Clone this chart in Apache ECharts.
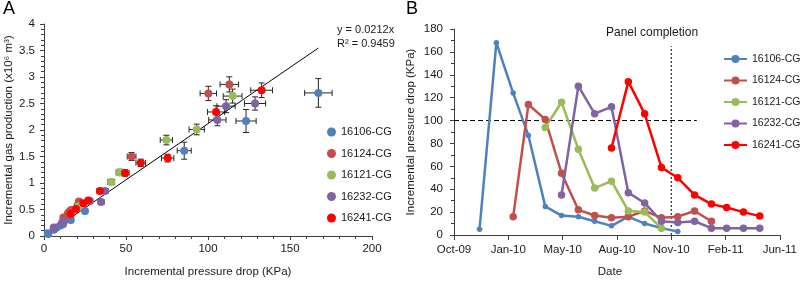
<!DOCTYPE html>
<html>
<head>
<meta charset="utf-8">
<script src="https://cdn.jsdelivr.net/npm/echarts@6/dist/echarts.min.js"></script>
<style>html,body{margin:0;padding:0;background:#fff}#c{width:800px;height:283px}</style>
</head>
<body>
<div id="c"></div>
<script>
// ---------- DATA ----------
const wells = ['16106-CG', '16124-CG', '16121-CG', '16232-CG', '16241-CG'];
const colors = ['#4F81BD', '#C0504D', '#9BBB59', '#8064A2', '#FF0000'];

// Panel A: [incremental pressure drop (KPa), incremental gas production (x10^6 m3)]
const a16106 = [[2.6,0.04],[167.3,2.70],[123.2,2.17],[85.5,1.61],[25,0.47],[16.3,0.30],[16,0.34],[11.6,0.22],[7.7,0.16],[15.5,0.32],[10,0.20],[6,0.12],[2.3,0.05]];
const a16124 = [[15.5,0.40],[113,2.86],[100.2,2.69],[53.4,1.50],[21.3,0.65],[16.5,0.49],[14.8,0.44],[15.9,0.47],[20.5,0.58],[14.5,0.41],[15.5,0.45],[20.8,0.55],[11.8,0.35]];
const a16121 = [[93.1,2.01],[115,2.64],[74.6,1.81],[41,1.02],[46.3,1.20],[21,0.56],[20,0.52],[6,0.15]];
const a16232 = [[34.8,0.64],[128.7,2.50],[105.7,2.19],[111,2.45],[37.2,0.85],[28,0.66],[12,0.28],[11,0.25],[12,0.27],[6,0.15],[6,0.14],[6,0.16],[6,0.13]];
const a16241 = [[75.4,1.47],[132.7,2.75],[104.9,2.34],[59,1.38],[49.4,1.19],[34.1,0.85],[27,0.67],[24,0.62],[19.5,0.51],[16.3,0.42]];
const xErrFrac = 0.05;
const yErrFrac = [0.10, 0.05, 0.05, 0.05, 0.05];
const trendSlope = 0.0212;
const trendText = 'y = 0.0212x\nR² = 0.9459';

// Panel B: dates and incremental pressure drop (KPa)
const b16106Dates = ['2009-11-30','2009-12-31','2010-01-31','2010-02-28','2010-03-31','2010-04-30','2010-05-31','2010-06-30','2010-07-31','2010-08-31','2010-09-30','2010-10-31','2010-11-30'];
const b16106Vals  = [5,168,124,87,25,17,16,12,8,16,10,6,3];
const b16124Dates = ['2010-01-31','2010-02-28','2010-03-31','2010-04-30','2010-05-31','2010-06-30','2010-07-31','2010-08-31','2010-09-30','2010-10-31','2010-11-30','2010-12-31','2011-01-31'];
const b16124Vals  = [16,114,101,54,22,17,15,16,21,15,16,21,12];
const b16121Dates = ['2010-03-31','2010-04-30','2010-05-31','2010-06-30','2010-07-31','2010-08-31','2010-09-30','2010-10-31'];
const b16121Vals  = [94,116,75,41,47,21,20,6];
const b16232Dates = ['2010-04-30','2010-05-31','2010-06-30','2010-07-31','2010-08-31','2010-09-30','2010-10-31','2010-11-30','2010-12-31','2011-01-31','2011-02-28','2011-03-31','2011-04-30'];
const b16232Vals  = [35,130,106,112,37,28,12,11,12,6,6,6,6];
const b16241Dates = ['2010-07-31','2010-08-31','2010-09-30','2010-10-31','2010-11-30','2010-12-31','2011-01-31','2011-02-28','2011-03-31','2011-04-30'];
const b16241Vals  = [76,134,106,59,50,35,27,24,20,16.5];
const refLevel = 100;
const refLineEnd = '2011-01-04';
const completionDate = '2010-11-18';
const completionTop = 165;
const dateAxisMin = 40100, dateAxisMax = 40700, dateAxisStep = 100; // Excel serial days

// ---------- HELPERS ----------
const FONT = '"Liberation Sans", Arial, sans-serif';
const MONTHS = ['Jan','Feb','Mar','Apr','May','Jun','Jul','Aug','Sep','Oct','Nov','Dec'];
const EPOCH = Date.UTC(1899, 11, 30);
function serial(s){ const p = s.split('-').map(Number); return (Date.UTC(p[0], p[1]-1, p[2]) - EPOCH) / 86400000; }
function fmtSerial(v){ const d = new Date(EPOCH + v*86400000); return MONTHS[d.getUTCMonth()] + '-' + String(d.getUTCFullYear()).slice(2); }

const aData = [a16106, a16124, a16121, a16232, a16241];
const bDates = [b16106Dates, b16124Dates, b16121Dates, b16232Dates, b16241Dates];
const bVals = [b16106Vals, b16124Vals, b16121Vals, b16232Vals, b16241Vals];

const allX = aData.flat().map(p => p[0]);
const tMin = Math.min(...allX), tMax = Math.max(...allX);

const axisCol = '#404040', txtCol = '#1a1a1a';

function errRender(params, api){
  const x = api.value(0), y = api.value(1), ex = api.value(2), ey = api.value(3);
  const l = api.coord([x-ex, y]), r = api.coord([x+ex, y]);
  const t = api.coord([x, y+ey]), b = api.coord([x, y-ey]);
  const cap = 3;
  const style = {stroke: '#262626', lineWidth: 1, fill: null};
  return {type: 'group', children: [
    {type:'line', shape:{x1:l[0], y1:l[1], x2:r[0], y2:r[1]}, style},
    {type:'line', shape:{x1:l[0], y1:l[1]-cap, x2:l[0], y2:l[1]+cap}, style},
    {type:'line', shape:{x1:r[0], y1:r[1]-cap, x2:r[0], y2:r[1]+cap}, style},
    {type:'line', shape:{x1:t[0], y1:t[1], x2:b[0], y2:b[1]}, style},
    {type:'line', shape:{x1:t[0]-cap, y1:t[1], x2:t[0]+cap, y2:t[1]}, style},
    {type:'line', shape:{x1:b[0]-cap, y1:b[1], x2:b[0]+cap, y2:b[1]}, style}
  ]};
}

const series = [];
// error bars (panel A)
aData.forEach((d, i) => {
  series.push({type:'custom', xAxisIndex:0, yAxisIndex:0, silent:true, z:1,
    renderItem: errRender, encode:{x:0, y:1},
    data: d.map(p => [p[0], p[1], p[0]*xErrFrac, p[1]*yErrFrac[i]])});
});
// scatter points (panel A)
aData.forEach((d, i) => {
  series.push({type:'scatter', name:wells[i], xAxisIndex:0, yAxisIndex:0, z:3,
    symbol:'circle', symbolSize:8, itemStyle:{color:colors[i], opacity:1}, data:d});
});
// trendline
series.push({type:'line', xAxisIndex:0, yAxisIndex:0, z:2, silent:true, symbol:'none',
  lineStyle:{color:'#000', width:1}, data:[[tMin, tMin*trendSlope],[tMax, tMax*trendSlope]]});
// panel B lines
bDates.forEach((ds, i) => {
  series.push({type:'line', name:wells[i], xAxisIndex:1, yAxisIndex:1, z:3,
    symbol:'circle', symbolSize: i === 0 ? 5.5 : 7.5, showSymbol:true,
    lineStyle:{color:colors[i], width:2.5}, itemStyle:{color:colors[i]},
    data: ds.map((s, k) => [serial(s), bVals[i][k]])});
});
// reference lines (panel B)
series.push({type:'line', xAxisIndex:1, yAxisIndex:1, z:2, silent:true, symbol:'none',
  lineStyle:{color:'#000', width:1, type:[5,3]},
  data:[[dateAxisMin, refLevel],[serial(refLineEnd), refLevel]]});
series.push({type:'line', xAxisIndex:1, yAxisIndex:1, z:2, silent:true, symbol:'none',
  lineStyle:{color:'#000', width:1, type:[2,2]},
  data:[[serial(completionDate), 0],[serial(completionDate), completionTop]]});

const lineIcon = 'path://M0,3.6 L8,3.6 L8,5.4 L0,5.4 Z M15,3.6 L23,3.6 L23,5.4 L15,5.4 Z M7.5,4.5 A4,4 0 1,1 15.5,4.5 A4,4 0 1,1 7.5,4.5 Z';

const tick = {show:true, length:4, lineStyle:{color:axisCol}};
const minor = n => ({show:true, splitNumber:n, length:3, lineStyle:{color:axisCol}});
const lab = m => ({color:txtCol, fontSize:11.5, fontFamily:FONT, margin:m});
const nameStyle = {color:txtCol, fontSize:11.5, fontFamily:FONT};

const option = {
  animation:false,
  textStyle:{fontFamily:FONT},
  grid:[{left:44, top:24, width:328, height:214}, {left:454, top:29, width:330, height:212}],
  xAxis:[
    {gridIndex:0, type:'value', min:0, max:200, interval:50,
     axisLine:{lineStyle:{color:axisCol}}, axisTick:tick, minorTick:minor(5), splitLine:{show:false},
     axisLabel:lab(7), name:'Incremental pressure drop (KPa)', nameLocation:'middle', nameGap:30, nameTextStyle:nameStyle},
    {gridIndex:1, type:'value', min:dateAxisMin, max:dateAxisMax, interval:dateAxisStep,
     axisLine:{lineStyle:{color:axisCol}}, axisTick:{show:true, length:5, lineStyle:{color:axisCol}}, splitLine:{show:false},
     axisLabel:Object.assign(lab(9), {formatter: fmtSerial}),
     name:'Date', nameLocation:'middle', nameGap:31, nameTextStyle:Object.assign({padding:[0,14,0,0]}, nameStyle)}
  ],
  yAxis:[
    {gridIndex:0, type:'value', min:0, max:4, interval:0.5,
     axisLine:{show:true, lineStyle:{color:axisCol}}, axisTick:tick, minorTick:minor(5), splitLine:{show:false},
     axisLabel:lab(9), name:'Incremental gas production (x10⁶ m³)', nameLocation:'middle', nameGap:29, nameTextStyle:nameStyle},
    {gridIndex:1, type:'value', min:0, max:180, interval:20,
     axisLine:{show:true, lineStyle:{color:axisCol}}, axisTick:tick, minorTick:minor(2), splitLine:{show:false},
     axisLabel:lab(11), name:'Incremental pressure drop (KPa)', nameLocation:'middle', nameGap:37, nameTextStyle:nameStyle}
  ],
  legend:[
    {data: wells.map(n => ({name:n, icon:'circle'})), orient:'vertical', left:322, top:120,
     itemWidth:9, itemHeight:9, itemGap:7.5, selectedMode:false,
     textStyle:{fontSize:11, color:txtCol, lineHeight:14, fontFamily:FONT}},
    {data: wells.map(n => ({name:n, icon:lineIcon})), orient:'vertical', left:724, top:52,
     itemWidth:23, itemHeight:9, itemGap:7.5, selectedMode:false, padding:0,
     textStyle:{fontSize:10.5, color:txtCol, lineHeight:14, fontFamily:FONT}}
  ],
  graphic:[
    {type:'text', left:3, top:0, style:{text:'A', fontSize:18, fill:'#000', fontFamily:FONT}},
    {type:'text', left:406, top:0, style:{text:'B', fontSize:18, fill:'#000', fontFamily:FONT}},
    {type:'text', left:337, top:23, style:{text:trendText, fontSize:11, lineHeight:14, fill:txtCol, fontFamily:FONT}},
    {type:'text', left:606, top:27, style:{text:'Panel completion', fontSize:12, fill:txtCol, fontFamily:FONT}}
  ],
  series
};
const chart = echarts.init(document.getElementById('c'), null, {renderer:'canvas'});
chart.setOption(option);
</script>
</body>
</html>
